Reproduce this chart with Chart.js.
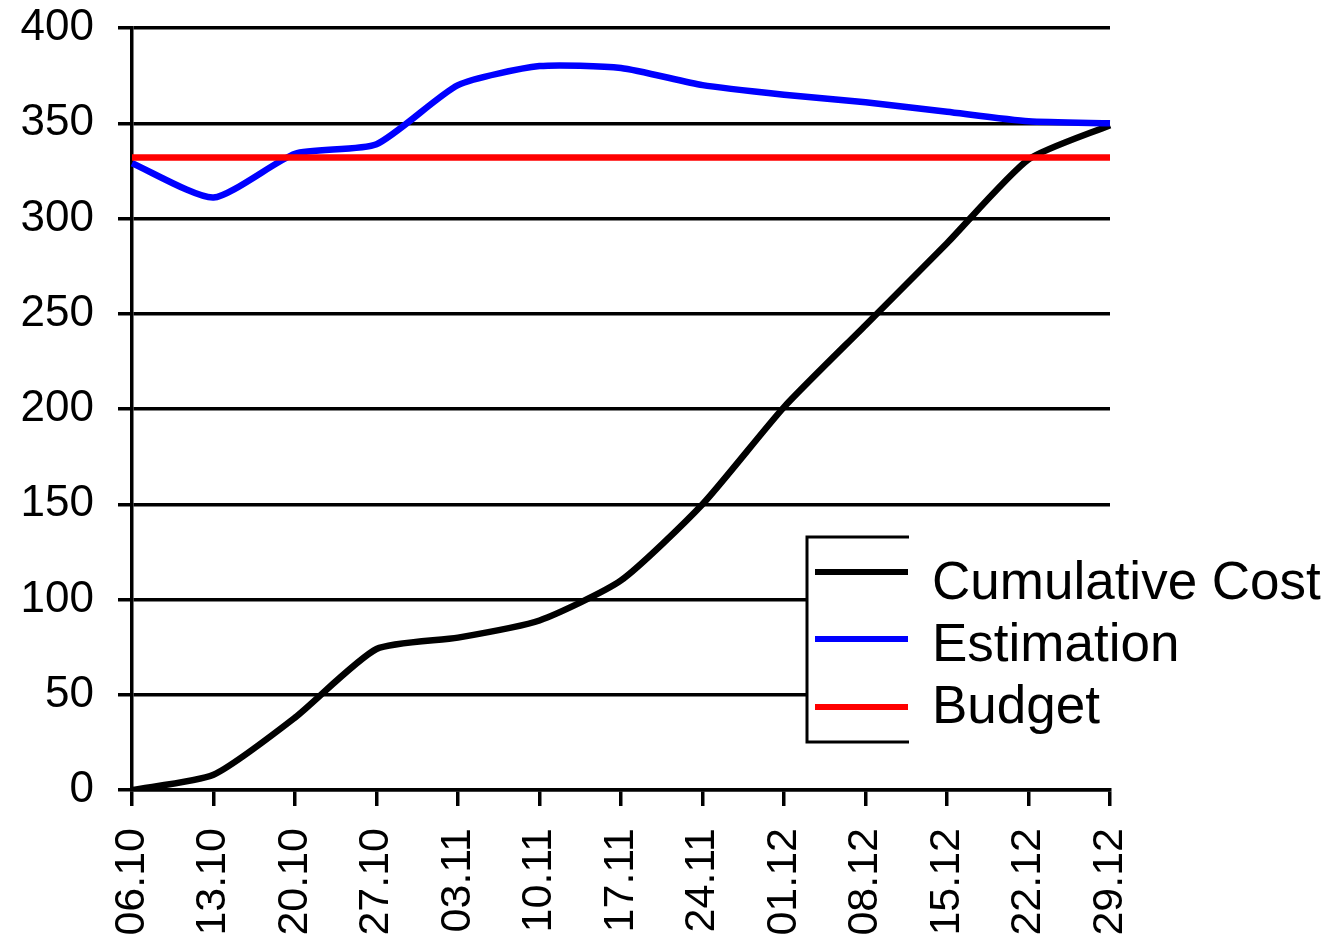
<!DOCTYPE html>
<html>
<head>
<meta charset="utf-8">
<script src="https://cdn.jsdelivr.net/npm/chart.js@4/dist/chart.umd.min.js"></script>
<style>
  html, body { margin: 0; padding: 0; background: #fff; }
  canvas { display: block; }
</style>
</head>
<body>
<canvas id="costChart" width="1335" height="938"></canvas>
<script>
// weekly dates
const weekLabels = ['06.10', '13.10', '20.10', '27.10', '03.11', '10.11', '17.11',
                    '24.11', '01.12', '08.12', '15.12', '22.12', '29.12'];

const cumulativeCost = [0, 8, 38, 74, 80, 89, 110, 150, 201, 244, 287, 331, 349];
const estimation     = [329, 311, 334, 339, 370, 380, 379, 370, 365, 361, 356, 351, 350];
const budget         = [332, 332, 332, 332, 332, 332, 332, 332, 332, 332, 332, 332, 332];

const yTicks = { min: 0, max: 400, step: 50 };

const FONT = '"Liberation Sans", Arial, sans-serif';

// legend box drawn over the plot, like the old spreadsheet chart
const boxLegend = {
  id: 'boxLegend',
  afterDraw(chart) {
    const ctx = chart.ctx;
    const left = 807, top = 537, bottom = 742, lineEnd = 909;
    ctx.save();
    ctx.fillStyle = '#fff';
    ctx.fillRect(left, top, chart.width - left, bottom - top);
    ctx.strokeStyle = '#000';
    ctx.lineWidth = 3;
    ctx.beginPath();
    ctx.moveTo(lineEnd, top);
    ctx.lineTo(left, top);
    ctx.lineTo(left, bottom);
    ctx.lineTo(lineEnd, bottom);
    ctx.stroke();

    const rows = [572, 639, 707];
    const baselines = [599, 661, 723];
    ctx.font = '53px ' + FONT;
    ctx.textBaseline = 'alphabetic';
    chart.data.datasets.forEach((ds, i) => {
      ctx.strokeStyle = ds.borderColor;
      ctx.lineWidth = 6;
      ctx.beginPath();
      ctx.moveTo(815, rows[i]);
      ctx.lineTo(908, rows[i]);
      ctx.stroke();
      ctx.fillStyle = '#000';
      ctx.fillText(ds.label, 932, baselines[i]);
    });
    ctx.restore();
  }
};

const ctx = document.getElementById('costChart').getContext('2d');
new Chart(ctx, {
  type: 'line',
  data: {
    labels: weekLabels,
    datasets: [
      { label: 'Cumulative Cost', data: cumulativeCost, borderColor: '#000000', order: 2 },
      { label: 'Estimation', data: estimation, borderColor: '#0000ff', order: 1 },
      { label: 'Budget', data: budget, borderColor: '#ff0000', order: 0, tension: 0 }
    ]
  },
  options: {
    responsive: false,
    animation: false,
    layout: { padding: { top: 28, right: 225, left: 0, bottom: 0 } },
    elements: {
      line: { borderWidth: 6.5, tension: 0.2, fill: false, capBezierPoints: true },
      point: { radius: 0, hoverRadius: 0 }
    },
    plugins: {
      legend: { display: false },
      tooltip: { enabled: false }
    },
    scales: {
      x: {
        offset: false,
        afterFit(scale) {
          scale.height = 148;
          scale.paddingLeft = 0; scale.paddingRight = 0;
        },
        grid: { drawOnChartArea: false, drawTicks: true, tickLength: 16, color: '#000', lineWidth: 3.5 },
        border: { display: true, color: '#000', width: 3.5 },
        ticks: {
          minRotation: 90, maxRotation: 90, autoSkip: false, padding: 22,
          color: '#000', font: { family: FONT, size: 43 }
        }
      },
      y: {
        min: yTicks.min, max: yTicks.max,
        afterFit(scale) {
          scale.width = 132;
          scale.paddingTop = 0; scale.paddingBottom = 0;
        },
        grid: { color: '#000', lineWidth: 3.5, drawTicks: true, tickLength: 14 },
        border: { display: true, color: '#000', width: 3.5 },
        ticks: {
          stepSize: yTicks.step, padding: 24,
          color: '#000', font: { family: FONT, size: 44 }
        }
      }
    }
  },
  plugins: [boxLegend]
});
</script>
</body>
</html>
